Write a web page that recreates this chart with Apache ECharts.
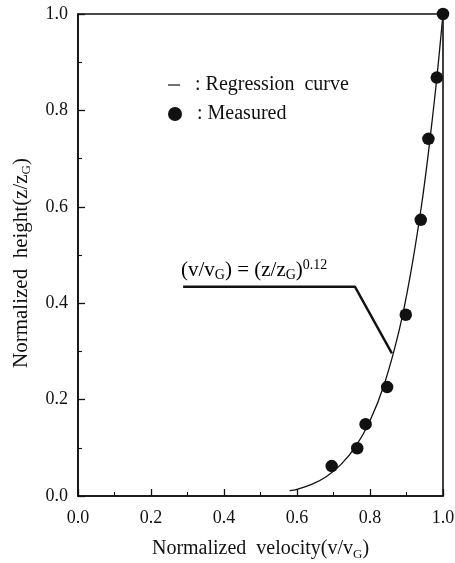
<!DOCTYPE html>
<html><head><meta charset="utf-8">
<script src="https://cdn.jsdelivr.net/npm/echarts@6/dist/echarts.min.js"></script>
<style>html,body{margin:0;padding:0;background:#fff}#c{width:455px;height:563px}</style>
</head><body><div id="c"></div>
<script>
// Tick labels
const xTickValues = [0.0, 0.2, 0.4, 0.6, 0.8, 1.0];
const yTickValues = [0.0, 0.2, 0.4, 0.6, 0.8, 1.0];
// Measured points (v/vG, z/zG)
const measuredV = [0.695, 0.765, 0.788, 0.847, 0.898, 0.939, 0.960, 0.983, 1.0];
const measuredZ = [0.062, 0.099, 0.149, 0.226, 0.376, 0.573, 0.741, 0.868, 1.0];
// Regression curve points
const curveV = [0.58, 0.60, 0.64, 0.68, 0.72, 0.76, 0.80, 0.84, 0.88, 0.91, 0.94, 0.96, 0.98, 0.99, 1.0];
const curveZ = [0.011, 0.014, 0.024, 0.040, 0.065, 0.102, 0.156, 0.234, 0.344, 0.456, 0.597, 0.712, 0.845, 0.920, 1.0];
// Annotation leader line (data units)
const leaderV = [0.288, 0.759, 0.860];
const leaderZ = [0.434, 0.434, 0.296];

const FONT = 'Liberation Serif';
const INK = '#111111';
const zip = (a, b) => a.map((v, i) => [v, b[i]]);

function makeRich(size, subSize) {
  return {
    n: { fontFamily: FONT, fontSize: size, color: INK, lineHeight: 24 },
    sub: { fontFamily: FONT, fontSize: subSize, color: INK, verticalAlign: 'bottom', lineHeight: 14 },
    sup: { fontFamily: FONT, fontSize: subSize, color: INK, verticalAlign: 'top', lineHeight: 13 }
  };
}

function makeAxis(ticks, margin) {
  return {
    type: 'value', min: 0, max: 1, interval: 0.2,
    axisLine: { show: true, lineStyle: { color: INK, width: 1.6 } },
    axisTick: { show: true, inside: true, length: 7, lineStyle: { color: INK, width: 1.3 } },
    minorTick: { show: true, splitNumber: 2, length: 4, lineStyle: { color: INK, width: 1.1 } },
    splitLine: { show: false },
    axisLabel: { fontFamily: FONT, fontSize: 18, color: INK, margin: margin,
      formatter: v => {
        const t = ticks.find(x => Math.abs(x - v) < 1e-9);
        return t === undefined ? '' : t.toFixed(1);
      } }
  };
}

const chart = echarts.init(document.getElementById('c'), null, { renderer: 'canvas' });
const xAxis = Object.assign(makeAxis(xTickValues, 13), {
  name: '{n|Normalized  velocity(v/v}{sub|G}{n|)}',
  nameLocation: 'middle', nameGap: 41,
  nameTextStyle: { fontFamily: FONT, fontSize: 20, color: INK, rich: makeRich(20, 13) }
});
const yAxis = Object.assign(makeAxis(yTickValues, 10), {
  name: '{n|Normalized  height(z/z}{sub|G}{n|)}',
  nameLocation: 'middle', nameGap: 45,
  nameTextStyle: { fontFamily: FONT, fontSize: 21, color: INK, rich: makeRich(21, 13), padding: [0, 16, 0, 0] }
});

chart.setOption({
  backgroundColor: '#fff',
  animation: false,
  grid: { left: 78, right: 12, top: 14, bottom: 67, outerBoundsMode: 'none', containLabel: false,
    show: true, borderColor: INK, borderWidth: 1.6 },
  xAxis: xAxis,
  yAxis: yAxis,
  legend: [
    { data: [{ name: 'Regression curve', icon: 'rect' }], orient: 'vertical', left: 168, top: 75, padding: 0,
      itemWidth: 12, itemHeight: 1.2,
      formatter: '  : Regression  curve',
      textStyle: { fontFamily: FONT, fontSize: 20, color: INK } },
    { data: [{ name: 'Measured', icon: 'circle' }], orient: 'vertical', left: 168, top: 104, padding: 0,
      itemWidth: 14, itemHeight: 14,
      formatter: '  : Measured',
      textStyle: { fontFamily: FONT, fontSize: 20, color: INK } }
  ],
  graphic: [
    { type: 'text', left: 181, top: 258,
      style: { text: '{n|(v/v}{sub|G}{n|) = (z/z}{sub|G}{n|)}{sup|0.12}', rich: makeRich(21, 14) } }
  ],
  series: [
    { name: 'Regression curve', type: 'line', data: zip(curveV, curveZ),
      showSymbol: false, smooth: 0.3,
      lineStyle: { color: INK, width: 1.3 }, itemStyle: { color: INK } },
    { name: 'Measured', type: 'scatter', data: zip(measuredV, measuredZ),
      symbol: 'circle', symbolSize: 12.5, itemStyle: { color: INK, opacity: 1 } },
    { name: 'leader', type: 'line', data: zip(leaderV, leaderZ), showSymbol: false,
      silent: true, lineStyle: { color: INK, width: 2.4 } }
  ]
});
</script></body></html>
